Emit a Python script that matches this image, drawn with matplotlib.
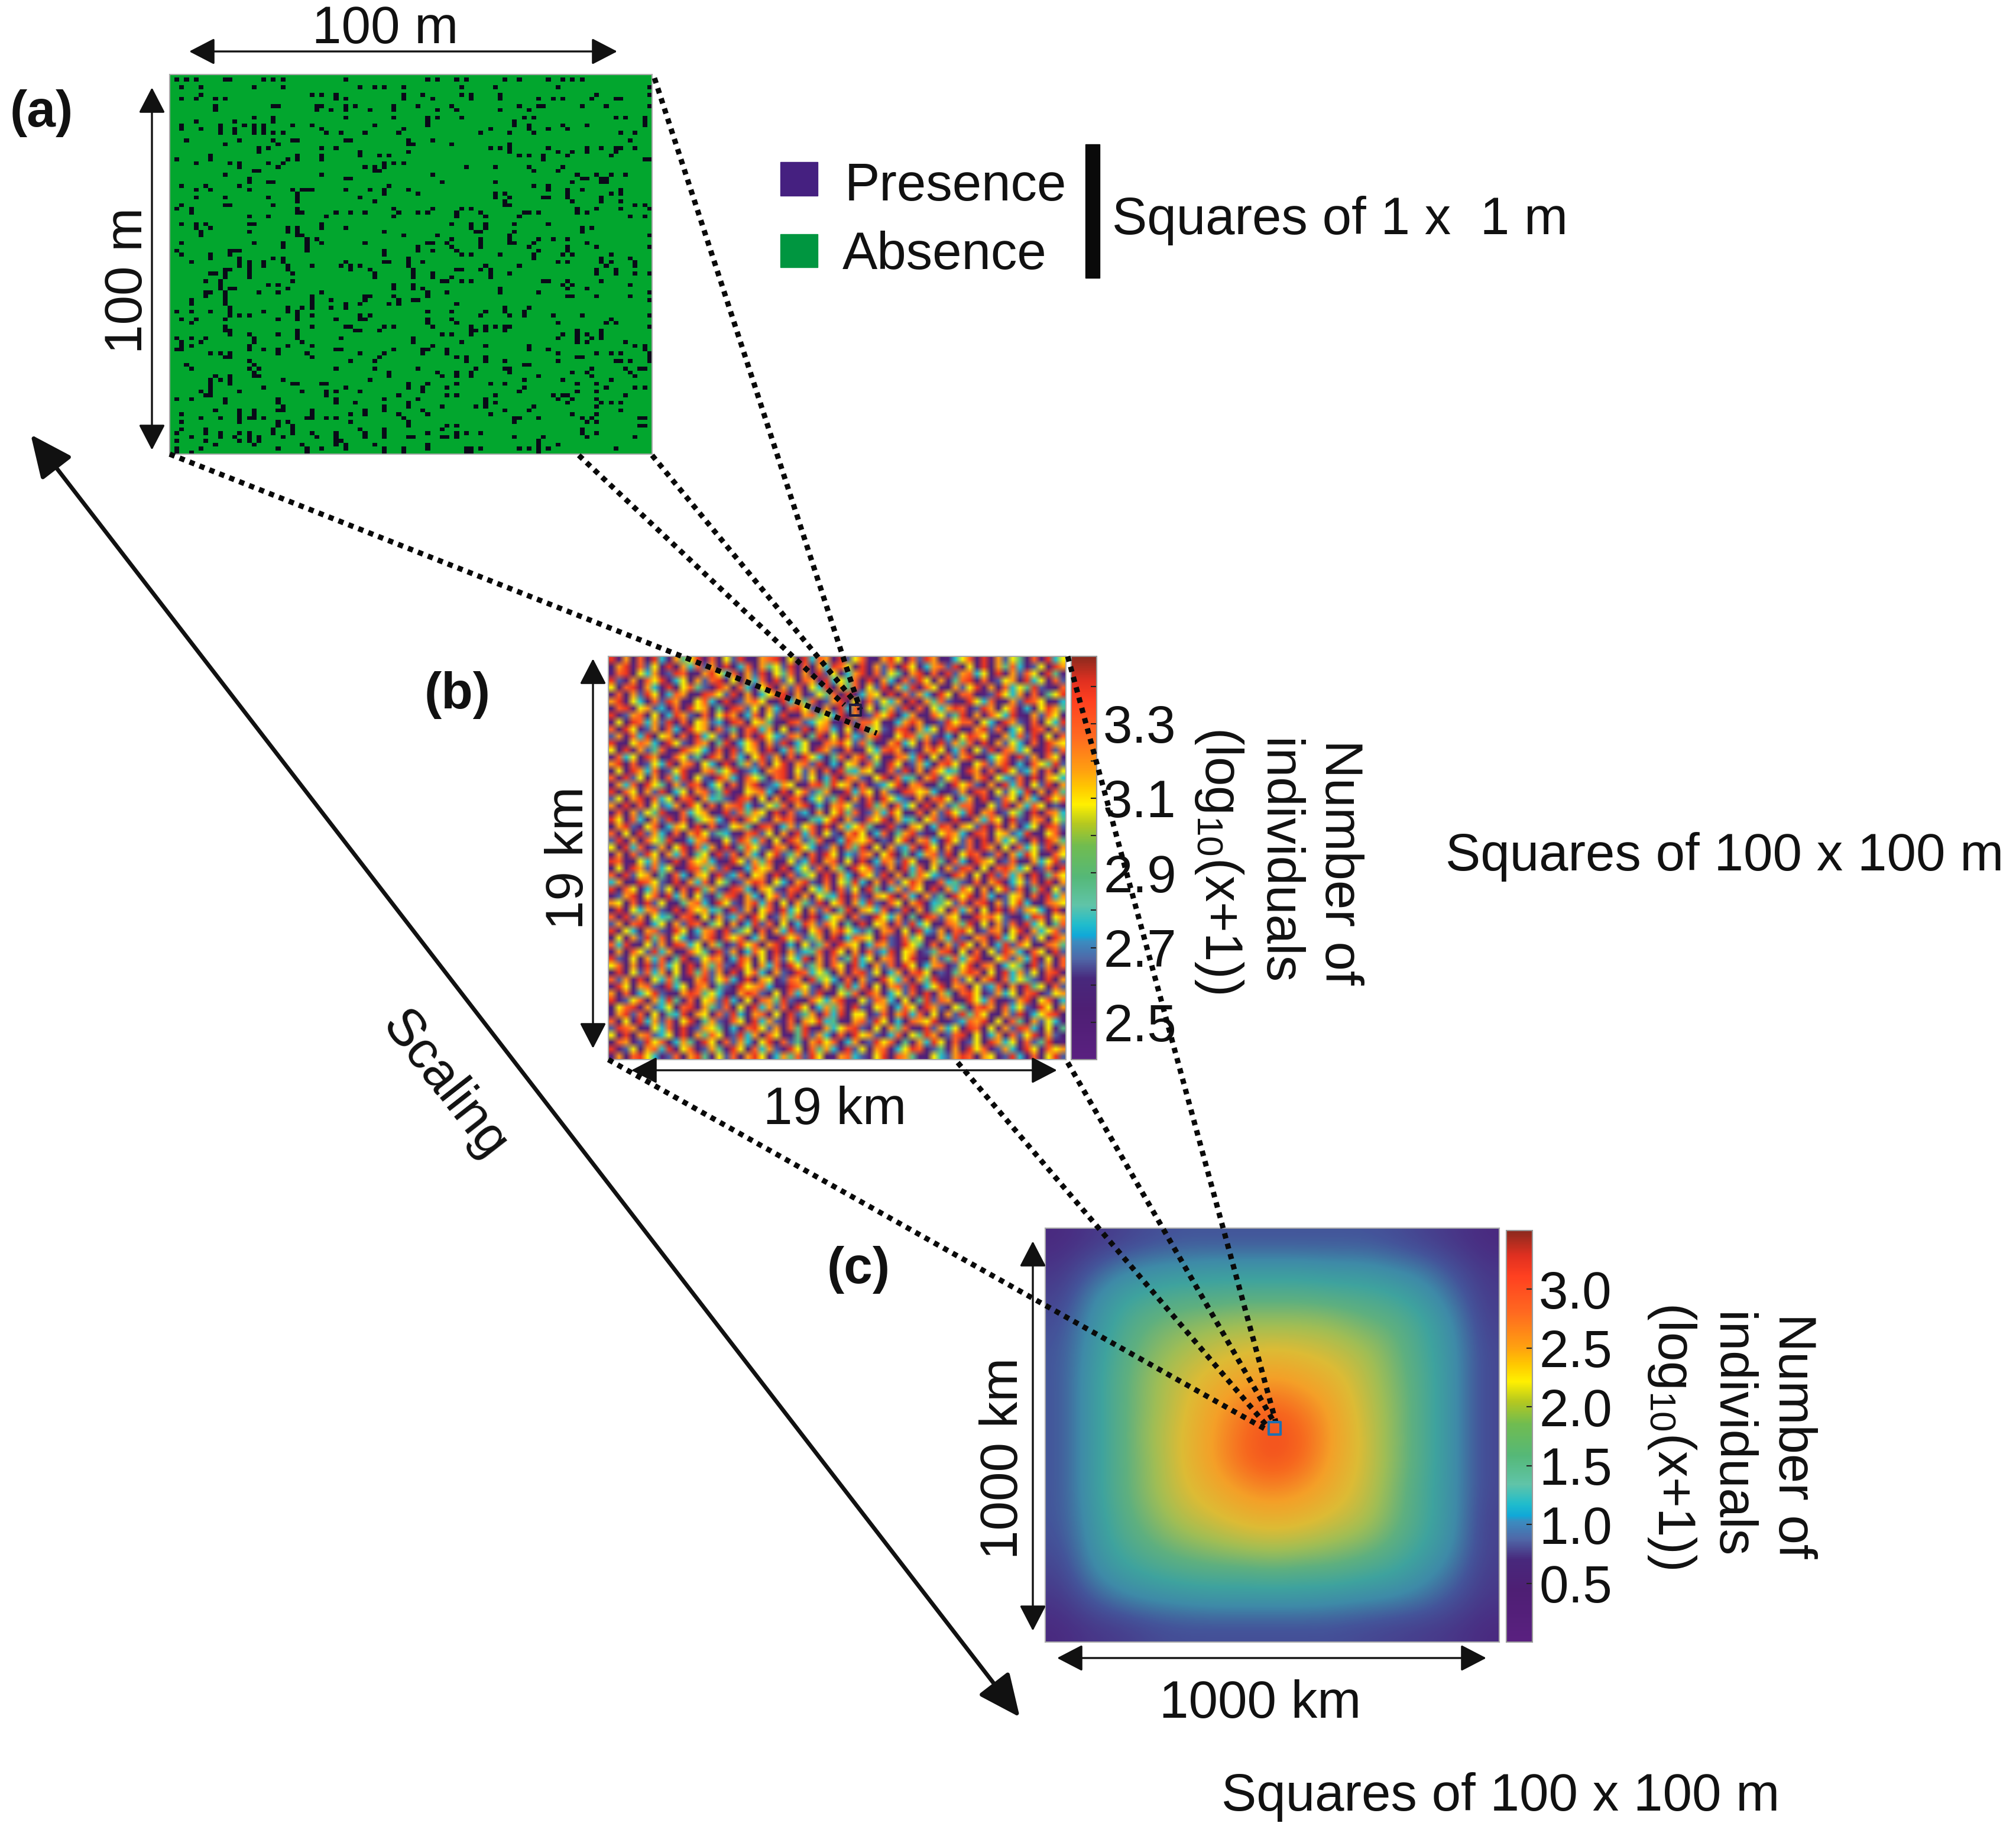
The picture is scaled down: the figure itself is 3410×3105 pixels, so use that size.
import matplotlib
matplotlib.use("Agg")
import matplotlib.pyplot as plt
import numpy as np
from matplotlib.colors import LinearSegmentedColormap, ListedColormap, Normalize
from matplotlib.cm import ScalarMappable

plt.rcParams['font.family'] = ['Liberation Sans', 'DejaVu Sans']
plt.rcParams['mathtext.default'] = 'regular'

# (a) presence cells, row -> columns, read off a zoomed crop (positions are approximate)
presence_rows = {
 1:[1,3,5,11,12,19,21,23,36,53,55,61,59,69,72,78,81,83,85], 3:[2,6,17,23,39,42,44,48,60,67,80,99],
 5:[6,29,31,34,48,52,60,62,68,88,99], 6:[2,5,9,11,34,36,48,54,62,68,76,79,81,87,92,93],
 8:[9,21,22,30,31,36,38,46,51,58,72,76,77,85,90,99], 9:[9,30,33,36,41,46,59,68,55,74],
 11:[17,21,36,46,53,55,60,73,75,92,94,98], 12:[5,13,21,53,71,98],
 13:[2,10,15,17,19,25,29,42,53,71,74,81,86,98], 14:[2,6,10,13,17,19,31,48,66,74,78,82],
 15:[10,13,17,19,21,23,32,35,40,47,64,70,75,93,96], 17:[3,14,21,25,26,36,37,49,54,95],
 18:[11,22,49,50,58,70], 19:[18,20,31,34,66,68,70,78,86,89,92,93,96],
 20:[18,39,49,70,80,83,86,92], 21:[8,26,31,39,43,45,72,74,77,82,91],
 22:[1,8,24,26,31,77,98,99], 23:[5,12,14,20,23,44,46,48], 24:[14,22,40,42,44,61,67,74,81],
 25:[17,18,42,43,75,80], 26:[11,31,54,84,88,91,94], 27:[16,36,37,85,86,89,90],
 28:[16,20,21,56,67,83,89,90], 29:[2,7,14,45,75,78], 30:[5,8,16,25,27,28,29,36,41,44,49,78,82,85,93],
 31:[26,44,51,67,69,82,91,93], 32:[5,11,20,26,39,67,70,77,78,82,89], 33:[26,42,69,83,89,93],
 34:[2,11,12,21,69,70,96,98], 35:[1,4,26,46,54,60,62,84,88,93,99],
 36:[4,26,27,34,37,40,47,51,53,59,64,73,74,76,84,86], 37:[16,20,32,46,59,65,72,95,98],
 39:[2,5,7,16,17,31,58,62,65,71,78], 40:[5,8,24,26,31,36,62,65,85,87], 41:[6,16,24,26,44,63,64,71,85],
 42:[6,26,27,48,55,70,99], 43:[28,30,58,64,70,76,79,82], 44:[2,17,23,28,31,40,53,54,57,64,70,71,75,86],
 45:[23,28,51,58,64,74,82,88,99], 46:[1,12,13,14,28,44,51,54,59,76,82], 47:[2,8,12,44,60,62,68,75,81,83,91],
 48:[8,14,21,23,49,75,89,95], 49:[4,14,16,19,23,36,44,45,49,52,80,82,89,91,96],
 50:[14,16,19,24,29,35,37,39,49,65,72,90,96], 51:[11,12,16,24,37,41,50,59,60,64,66,88,92],
 52:[8,9,11,16,25,42,50,54,66,70,88,92,96,99], 53:[11,16,42,50,54,58,66],
 54:[7,10,25,56,57,60,62,77,78,89,82], 55:[10,20,22,46,50,81,83,95], 56:[10,12,13,24,46,50,52,68,82,86],
 57:[7,8,11,18,22,31,53,57,68,76,99], 58:[7,11,29,40,41,46,53,82,83,88,95], 59:[4,11,29,33,40,47,50,51,99],
 60:[4,11,29,36,39,45,47,59], 61:[12,24,27,29,33,36,69,74], 62:[1,4,8,12,19,24,26,53,58,65,69,73],
 63:[12,14,16,26,29,41,39,64,70,73,79,85,99], 64:[2,5,11,22,26,34,39,40,53,58,91], 65:[4,53,59,80,90,92],
 66:[11,29,36,37,44,46,54,62,65,67,69,70,99], 67:[11,12,26,38,39,43,62,63,65,69,84,89],
 68:[12,16,22,26,56,58,62,81,84,86,89], 69:[1,4,7,17,26,35,50,80,84,89,87], 70:[2,6,17,27,50,60,84,86,94],
 71:[2,4,16,24,29,54,65,74,96,98], 72:[1,2,16,19,22,34,35,46,52,53,57,74,78,98],
 73:[8,10,12,22,28,39,44,52,57,80,88,91,93,99], 74:[11,12,29,43,59,61,65,84,85,99],
 75:[16,37,42,61,65,69,80,92,93,95,99], 76:[3,17,73,74], 77:[4,16,18,34,42,51,63,69,70,87,94,97,98],
 78:[17,45,55,59,62,70,83,86,95], 79:[9,12,17,18,45,56,59,62,76,87,96], 80:[8,10,12,23,41,73,81,91],
 81:[8,12,25,26,31,32,49,53,59,66,69,84,88], 82:[8,19,36,49,52,57,73,90,96,98],
 83:[6,8,14,27,32,34,39,52,72,84,88], 84:[7,8,32,47,57,59,67,79,81,82,94], 85:[1,4,11,22,34,44,51,65,80,83,88],
 86:[11,22,34,38,49,65,67,82,89,91,93], 87:[23,44,49,56,63,65,75,88], 88:[9,14,17,22,23,29,40,44,52,69,74,93],
 89:[2,14,17,29,37,40,47,53,66,83,88], 90:[6,10,14,16,17,19,28,29,32,34,48,71,72,76,85,87,97,98],
 91:[2,14,22,24,37,49,71,86,88], 92:[22,25,49,59,57,97,98], 93:[2,7,21,25,39,44,56,85],
 94:[1,7,10,14,16,21,25,29,34,40,44,53,59,61,64,85,88], 95:[4,10,13,16,18,23,30,34,40,44,49,50,56,57,59,71,77,86,96],
 96:[1,7,14,16,18,34,35,76], 97:[9,17,27,34,36,42,53,76,80], 98:[1,6,22,28,31,36,44,48,53,61,62,64,72,74,76,78,92],
 99:[1,4,28,44,48,61,62,76],
}

# (b) colour classes 0-9 per coarse cell. The field is far too fine to read cell by cell,
# so these are typed-in estimates of the texture, not the real cell values
noise_rows = [
 "9071819307469081629017890619387092680179608297103681907264180936",
 "1790826091738270913807462908173986190728196037829160917483026197",
 "0891637029810796381729064807192603791826407918092783619072861940",
 "9207186903617289061738092618709364819073082961704891802671936082",
 "6189073091684209718306917280639174806291739086017269071836492018",
 "0817296038710986291703689170264819037609182730961881029637180469",
 "7906318297016830912786019374802791608263719074820196381072986103",
 "1890672308196714098261730896217093816047291806379802971680316974",
 "9027816039721806971380629107846391702869137018624917086390172860",
 "0619837290816723098167401982367019288601379710296881630972081639",
 "8196027183096718240893716129078306194620891736089107928136098172",
 "2708391670819362071809632871490618327901698472031698601738290618",
 "9016873096208714903681729036018796284107936081927480917263081976",
 "6190724801976308192670913846097218106389712079603816290873610928",
 "0836197108624097183069271809631480792601873906182790136809271860",
 "7918026391780631904728169078291306708419602731896016827903186492",
 "1609738126901784690231789062718094376108290718634097081962370816",
 "8092617083916209731864089172603918720691834079268117906328190763",
 "0738196407298136081790237610894967180236917801409682170938062917",
 "9186072913607824901678319068247109386172098673102709816263907184",
 "2607918360891734209816071980362491708196320718960371902861730968",
 "7091806237196081789302648179031786209471836091724880162907386120",
 "0817264901836710928476190823071694802739610817296391780264091873",
 "9608317290814673091862079801436917208691734068219007386192078164",
 "1792068137609180267419803726819073684109217603981762908170361982",
 "8061927308179624301892617093806217960381479201687309816723901680",
 "2907186491037810629738160972481039768120691783096281907362180974",
 "6193802716908371904862087196302718490617238096170280971608362917",
 "0718296073814609281730692471809613287069140378291698028173961086",
 "9801637209186730196274810623917806091387296017408319760281073692",
 "1609728361098472910386719036281740968207193816072980618973602819",
 "8092671408317609238167091824609073186291704863219716092837190486",
 "3710986219073816402798163079218064931708269710834208179036281907",
 "9186037261809472098317620891637082619403728619073861706928149062",
 "0279168093716204891730682917064391820769183072409691830267180937",
 "7618092601478319620793816074290681739208617903462808917269301876",
 "1906378219086734092716809361728049176380291704618370619082763190",
 "8092716340891607238196027481903671820963704198276019786201398067",
 "2718903617298046170392816039728604191670829361087490617280936148",
 "9063178209613780924618073920681796324078160932718960287169073682",
 "1607294816302791868037109682471903876192084601739207819360826197",
 "8390162709836174029681790316248097613872096408172961703928610874",
 "0718629371086409271386091723480961708239167024891608162973086192",
 "9206173804912687039716082639170824936178069017248379106827390618",
 "6817092836190748209617380962471860931728096137802691870364192708",
 "1906283716094827190683172098364170892613708961204798160937261890",
 "8270916384017926830917602871946308172096381749018260791836420917",
 "0961782093618704219678301986207149380617829036917806238170946182",
 "7180369201798463017982160837291064819703628190741896027361890267",
 "9026817394081672930618749201863790162873061492870196381027916803",
 "1689072361890742816093728196037481920671386097216408971836209617",
 "0792816043917608293178061924708391660281793806172948601729036891",
 "8160937280691472086193720817693401782960318769102387916084172630",
 "2987106381902764130896271849017368920617480192736098160729831604",
 "6091782360917486029371860149273081967203816497028916037182690721",
 "1870296813740961827306918240796813702968140739618026197360824910",
 "9026178390681274096183720961847309261780369812407196802731960867",
 "0718963028179406281796037482961078320691874016327981760293081692",
]

# (c) values estimated from the colours on a coarse grid
field_c = [
 [.35,.45,.55,.65,.7,.7,.7,.7,.7,.7,.7,.65,.55,.45,.35],
 [.45,.7,.95,1.05,1.1,1.15,1.15,1.15,1.15,1.1,1.1,1.0,.9,.65,.45],
 [.55,.95,1.25,1.4,1.5,1.5,1.55,1.55,1.55,1.5,1.45,1.35,1.15,.85,.5],
 [.65,1.05,1.4,1.65,1.75,1.85,1.9,1.9,1.9,1.85,1.7,1.6,1.35,1.0,.55],
 [.7,1.1,1.5,1.75,1.95,2.1,2.2,2.25,2.2,2.1,1.95,1.7,1.4,1.05,.6],
 [.7,1.15,1.55,1.85,2.1,2.3,2.45,2.55,2.45,2.3,2.05,1.75,1.45,1.05,.6],
 [.7,1.15,1.55,1.85,2.15,2.45,2.7,2.85,2.7,2.45,2.1,1.8,1.45,1.05,.6],
 [.7,1.15,1.55,1.9,2.2,2.5,2.8,3.0,2.85,2.5,2.15,1.8,1.45,1.05,.6],
 [.7,1.15,1.55,1.85,2.2,2.5,2.8,2.95,2.8,2.45,2.15,1.8,1.45,1.05,.6],
 [.7,1.15,1.55,1.85,2.15,2.35,2.55,2.65,2.55,2.35,2.1,1.75,1.4,1.05,.6],
 [.7,1.1,1.5,1.75,2.0,2.15,2.3,2.35,2.3,2.15,2.0,1.7,1.4,1.05,.55],
 [.65,1.05,1.4,1.6,1.75,1.85,1.95,2.0,1.95,1.85,1.75,1.55,1.3,1.0,.55],
 [.55,.95,1.2,1.35,1.45,1.5,1.5,1.55,1.5,1.5,1.4,1.3,1.1,.85,.5],
 [.45,.7,.9,1.0,1.05,1.1,1.1,1.1,1.1,1.05,1.0,.95,.85,.65,.45],
 [.35,.45,.5,.6,.65,.65,.65,.65,.65,.65,.6,.55,.5,.45,.35],
]

ticks_b = [2.5,2.6,2.7,2.8,2.9,3.0,3.1,3.2,3.3,3.4]
ticklabels_b = ['2.5','','2.7','','2.9','','3.1','','3.3','']
ticks_c = [0.5,1.0,1.5,2.0,2.5,3.0]
ticklabels_c = ['0.5','1.0','1.5','2.0','2.5','3.0']

rainbow = LinearSegmentedColormap.from_list("bar", [
 (0.0,'#5A2080'),(.125,'#4E1F74'),(.2,'#48287C'),(.25,'#4F68A8'),(.293,'#3A8CC0'),(.307,'#10A8D8'),
 (.335,'#20BCCC'),(.383,'#60C4A8'),(.453,'#55B878'),(.53,'#70BC50'),(.585,'#B5C820'),(.633,'#FFF000'),
 (.675,'#FFC800'),(.717,'#FFA010'),(.8,'#FF6A20'),(.89,'#FF4020'),(.94,'#E03020'),(1.0,'#8B2A1E')], N=512)

# panel c looks duller than its bar because the fine speckle averages out
speckled = LinearSegmentedColormap.from_list("speckled", [
 (0.0,'#4A2A80'),(.1,'#4A2A80'),(.2,'#44549A'),(.286,'#3E8AA8'),(.371,'#3FA39E'),(.457,'#5FB07F'),
 (.543,'#A0BE55'),(.629,'#DDBB35'),(.714,'#F4A028'),(.8,'#F7691F'),(.857,'#F24A1E'),(1.0,'#E03020')], N=512)

W, H = 3410, 3105
fig = plt.figure(figsize=(W/100, H/100), dpi=100)

def px_axes(x0, y0, x1, y1):
    return fig.add_axes([x0/W, 1-y1/H, (x1-x0)/W, (y1-y0)/H])

# panel a
grid_a = np.zeros((100, 100))
for r, cols in presence_rows.items():
    grid_a[r, cols] = 1
ax_a = px_axes(287, 126, 1103, 768)
ax_a.imshow(grid_a, cmap=ListedColormap(['#02A62E', '#0A0A18']), aspect='auto', interpolation='nearest')

# panel b
codes_b = np.array([[int(ch) for ch in row] for row in noise_rows])
values_b = 2.45 + codes_b*0.105
norm_b = Normalize(2.4, 3.48)
ax_b = px_axes(1029, 1110, 1803, 1792)
ax_b.imshow(values_b, cmap=rainbow, norm=norm_b, aspect='auto', interpolation='bilinear', interpolation_stage='rgba')

# panel c
norm_c = Normalize(0, 3.5)
ax_c = px_axes(1768, 2077, 2536, 2777)
ax_c.imshow(np.array(field_c), cmap=speckled, norm=norm_c, aspect='auto', interpolation='bicubic', interpolation_stage='data')

for ax in (ax_a, ax_b, ax_c):
    ax.set_xticks([])
    ax.set_yticks([])
    for s in ax.spines.values():
        s.set_color('#aaaaaa')
        s.set_linewidth(1.5)

def add_bar(box, norm, ticks, labels):
    cax = px_axes(*box)
    cb = fig.colorbar(ScalarMappable(norm=norm, cmap=rainbow), cax=cax)
    cb.set_ticks(ticks)
    cb.set_ticklabels(labels)
    cb.ax.tick_params(direction='in', length=7, width=1.5, labelsize=64, pad=8, color='#222222', labelcolor='#111111')
    cb.outline.set_edgecolor('#999999')
    cb.outline.set_linewidth(1.5)

add_bar((1812, 1110, 1855, 1792), norm_b, ticks_b, ticklabels_b)
add_bar((2548, 2081, 2592, 2777), norm_c, ticks_c, ticklabels_c)

# everything drawn on top, in picture pixels
top = fig.add_axes([0, 0, 1, 1], zorder=5)
top.set_xlim(0, W)
top.set_ylim(H, 0)
top.axis('off')
top.patch.set_alpha(0)

dotted = [
 [(287,768),(1483,1240)], [(979,770),(1428,1192)], [(1103,770),(1450,1192)], [(1107,132),(1455,1200)],
 [(1029,1792),(2146,2420)], [(1620,1797),(2146,2415)], [(1806,1797),(2155,2405)], [(1806,1110),(2158,2405)],
]
for line in dotted:
    xs, ys = zip(*line)
    top.plot(xs, ys, color='#0a0a0a', lw=6.5, linestyle=(0, (1, 1)), dash_capstyle='butt')

# the little boxes where the dotted lines end
top.plot([2146,2166,2166,2146,2146], [2405,2405,2426,2426,2405], color='#1f6fb0', lw=3)
top.plot([1438,1456,1456,1438,1438], [1192,1192,1210,1210,1192], color='#201a40', lw=3)

def arrow(p0, p1, lw=2.4, hl=27, hw=14, color='#111111'):
    top.annotate('', xy=p1, xytext=p0, arrowprops=dict(
        arrowstyle=f'<|-|>,head_length={hl},head_width={hw}', mutation_scale=1, lw=lw,
        color=color, shrinkA=0, shrinkB=0))

arrow((320,87), (1044,87))
arrow((257,148), (257,761))
arrow((1003,1114), (1003,1773))
arrow((1068,1810), (1788,1810))
arrow((1747,2099), (1747,2758))
arrow((1788,2804), (2514,2804))
arrow((52,735), (1725,2904), lw=5, hl=44, hw=20)

# legend
top.fill([1320,1383,1383,1320], [274,274,331,331], color='#452080')
top.fill([1320,1383,1383,1320], [396,396,452,452], color='#009640')
top.fill([1836,1860,1860,1836], [244,244,470,470], color='#0a0a0a')

def label(x, y, s, size=64, rot=0, ha='center', weight='normal'):
    top.text(x, y, s, fontsize=size, rotation=rot, ha=ha, va='center', color='#111111',
             fontweight=weight, rotation_mode='anchor')

label(1429, 316, 'Presence', ha='left')
label(1425, 432, 'Absence', ha='left')
label(1881, 373, 'Squares of 1 x  1 m', ha='left')
label(652, 50, '100 m')
label(217, 474, '100 m', rot=90)
label(963, 1451, '19 km', rot=90)
label(1412, 1878, '19 km')
label(1698, 2466, '1000 km', rot=90)
label(2132, 2882, '1000 km')
label(752, 1836, 'Scaling', rot=-52)
label(2445, 1449, 'Squares of 100 x 100 m', ha='left')
label(2066, 3039, 'Squares of 100 x 100 m', ha='left')
label(17, 191, '(a)', size=63, ha='left', weight='bold')
label(718, 1175, '(b)', size=63, ha='left', weight='bold')
label(1399, 2147, '(c)', size=63, ha='left', weight='bold')

label(2265, 1458, 'Number of', rot=-90)
label(2160, 1458, 'individuals', rot=-90)
label(2062, 1455, '(log$_{10}$(x+1))', rot=-90)
label(3032, 2428, 'Number of', rot=-90)
label(2926, 2428, 'individuals', rot=-90)
label(2828, 2428, '(log$_{10}$(x+1))', rot=-90)

fig.savefig('out.png', dpi=100, facecolor='white')
